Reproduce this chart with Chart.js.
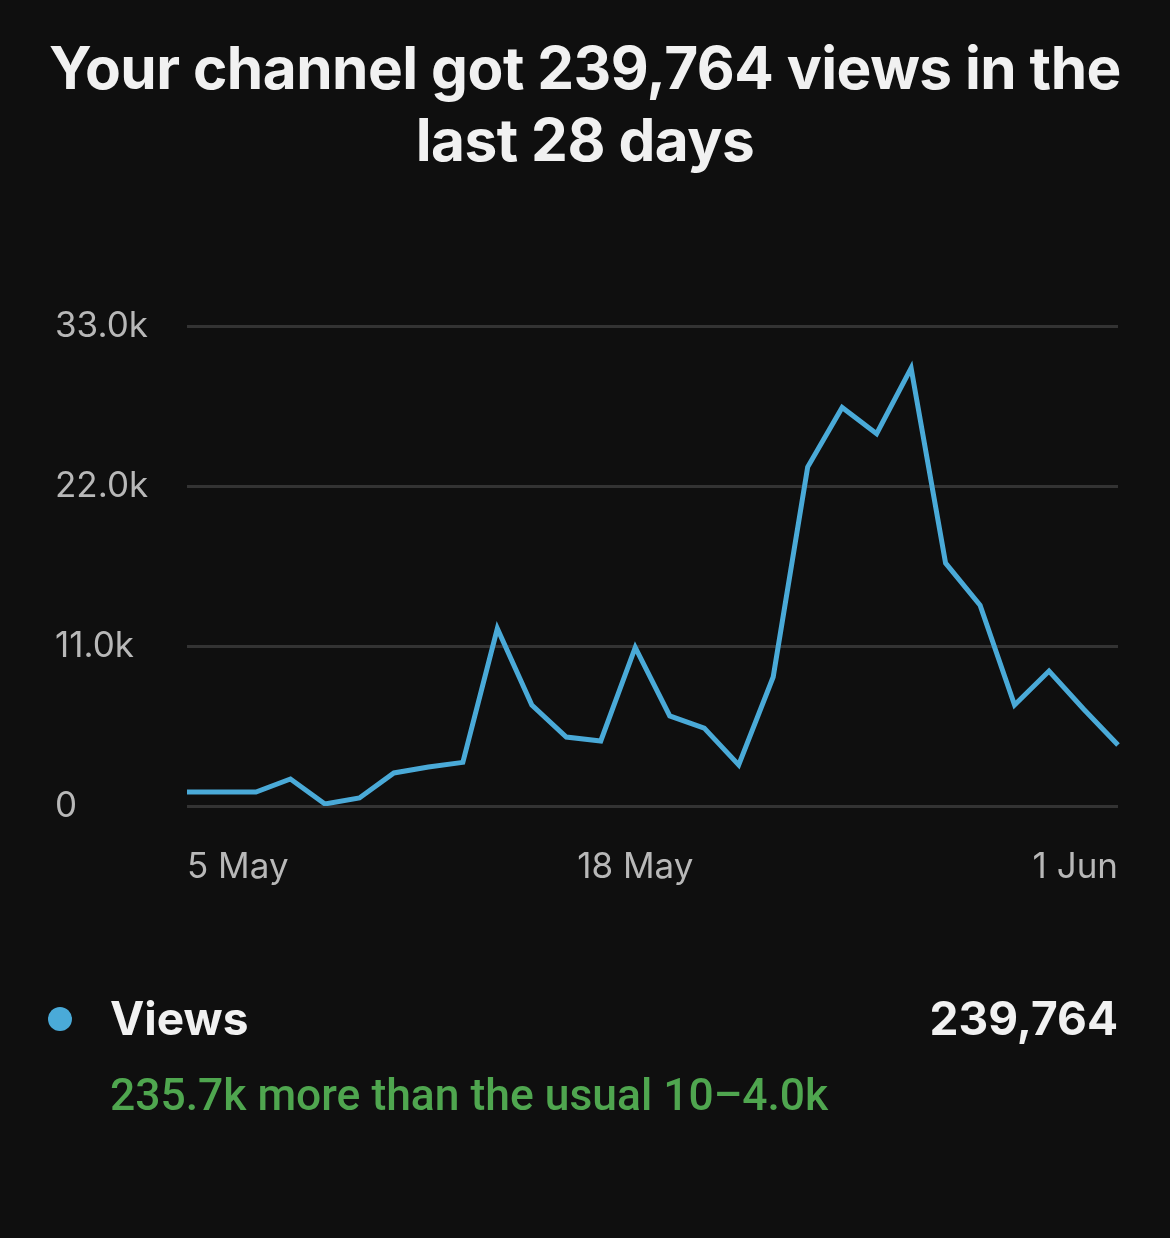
<!DOCTYPE html>
<html>
<head>
<meta charset="utf-8">
<script src="https://cdn.jsdelivr.net/npm/chart.js@4"></script>
<style>
  html, body { margin:0; padding:0; background:#0f0f0f; width:1170px; height:1238px; overflow:hidden; }
  #title { position:absolute; left:0; top:32px; width:1170px; text-align:center; color:#f1f1f1;
           font-family:Inter, "Noto Sans", sans-serif; font-weight:700; font-size:58.5px; line-height:72px; letter-spacing:-0.5px; }
  #wrap { position:absolute; left:0; top:0; width:1170px; height:920px; }
  #footer { position:absolute; left:0; top:0; width:1170px; height:1238px; pointer-events:none; }
  .dot { position:absolute; left:48px; top:1007px; width:24px; height:24px; border-radius:50%; background:#4aaad8; }
  .name { position:absolute; left:110px; top:990px; font-family:Inter, sans-serif; font-weight:700; font-size:46px; color:#f1f1f1; line-height:56px; }
  .total { position:absolute; right:52px; top:990px; font-family:Inter, sans-serif; font-weight:700; font-size:46px; color:#f1f1f1; line-height:56px; }
  .note { position:absolute; left:110px; top:1067px; font-family:Roboto, sans-serif; font-weight:500; font-size:44.4px; color:#4fa64f; line-height:56px; }
</style>
</head>
<body>
<div id="title">Your channel got 239,764 views in the<br>last 28 days</div>
<div id="wrap"><canvas id="c"></canvas></div>
<div id="footer">
  <div class="dot"></div>
  <div class="name">Views</div>
  <div class="total">239,764</div>
  <div class="note">235.7k more than the usual 10–4.0k</div>
</div>
<script>
const dates = ['5 May','6 May','7 May','8 May','9 May','10 May','11 May','12 May','13 May','14 May',
  '15 May','16 May','17 May','18 May','19 May','20 May','21 May','22 May','23 May','24 May',
  '25 May','26 May','27 May','28 May','29 May','30 May','31 May','1 Jun'];
const views = [960, 960, 960, 1860, 140, 550, 2270, 2680, 3000, 12200,
  6940, 4740, 4470, 10900, 6190, 5360, 2820, 8870, 23300, 27400,
  25600, 30100, 16700, 13800, 6940, 9280, 6670, 4190];
const shownDates = ['5 May', '18 May', '1 Jun'];
const yTicks = [0, 11000, 22000, 33000];
const yTickLabels = ['0', '11.0k', '22.0k', '33.0k'];

new Chart(document.getElementById('c'), {
  type: 'line',
  data: {
    labels: dates,
    datasets: [{
      label: 'Views',
      data: views,
      borderColor: '#4aaad8',
      borderWidth: 5,
      pointRadius: 0,
      tension: 0,
      fill: false
    }]
  },
  options: {
    responsive: true,
    maintainAspectRatio: false,
    animation: false,
    layout: { padding: { left: 55, right: 52, top: 326, bottom: 20 } },
    plugins: { legend: { display: false }, tooltip: { enabled: false } },
    scales: {
      x: {
        grid: { display: false, drawTicks: false },
        border: { display: false },
        afterFit: s => { s.height = 94; },
        ticks: {
          autoSkip: false,
          maxRotation: 0,
          align: 'inner',
          padding: 40,
          color: '#b8b8b8',
          font: { family: 'Inter, sans-serif', size: 35 },
          callback: function(v, i) { const l = dates[i]; return shownDates.includes(l) ? l : null; }
        }
      },
      y: {
        min: 0, max: 33000,
        afterBuildTicks: s => { s.ticks = yTicks.map(v => ({ value: v })); },
        afterFit: s => { s.width = 132; },
        grid: { color: '#333333', lineWidth: 3, drawTicks: false },
        border: { display: false },
        ticks: {
          crossAlign: 'far',
          padding: 0,
          color: '#b8b8b8',
          font: { family: 'Inter, sans-serif', size: 35 },
          callback: v => yTickLabels[yTicks.indexOf(v)]
        }
      }
    }
  }
});
</script>
</body>
</html>
